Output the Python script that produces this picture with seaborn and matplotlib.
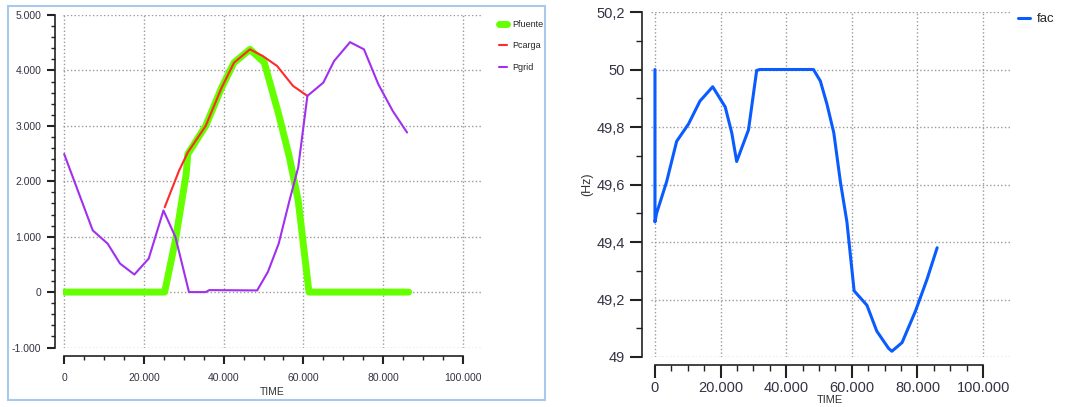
import pandas as pd
import seaborn as sns
import matplotlib.pyplot as plt
from matplotlib.patches import Rectangle

# left panel: power flows
t_fuente = [0, 25200, 27900, 30600, 31000, 35500, 39500, 42600, 46600, 50200, 53800, 56500, 58700, 61400, 86400]
p_fuente = [0, 0, 934, 2130, 2490, 3000, 3690, 4140, 4380, 4140, 3210, 2430, 1650, 0, 0]

t_carga = [25200, 28800, 31000, 35500, 39500, 42600, 46600, 49800, 53400, 57400, 61000]
p_carga = [1530, 2190, 2520, 3000, 3690, 4140, 4380, 4260, 4080, 3720, 3540]

t_grid = [0, 7150, 10900, 14000, 17600, 21200, 24900, 27900, 31300, 35500, 36400, 48400, 51100,
          53800, 56500, 58700, 61000, 65000, 67700, 71700, 75200, 78800, 82400, 86000]
p_grid = [2490, 1114, 874, 515, 317, 605, 1473, 994, 0, 0, 36, 30, 365,
          874, 1650, 2250, 3540, 3780, 4170, 4510, 4380, 3750, 3270, 2880]

# right panel: frequency
t_fac = [0, 0, 500, 3560, 6600, 10200, 13700, 17600, 21400, 23400, 24900, 28500, 31000, 32000, 48300,
         50400, 52400, 54500, 56500, 58500, 59500, 60700, 64600, 67600, 71200, 72200, 75300, 79400, 82900, 86000]
fac = [50.0, 49.47, 49.50, 49.61, 49.75, 49.81, 49.89, 49.94, 49.87, 49.78, 49.68, 49.79, 49.997, 50.0, 50.0,
       49.96, 49.88, 49.78, 49.61, 49.47, 49.36, 49.23, 49.18, 49.09, 49.03, 49.02, 49.05, 49.16, 49.27, 49.38]

x_ticks = [0, 20000, 40000, 60000, 80000, 100000]
x_labels = ['0', '20.000', '40.000', '60.000', '80.000', '100.000']
y1_ticks = [-1000, 0, 1000, 2000, 3000, 4000, 5000]
y1_labels = ['-1.000', '0', '1.000', '2.000', '3.000', '4.000', '5.000']
y2_ticks = [49.0, 49.2, 49.4, 49.6, 49.8, 50.0, 50.2]
y2_labels = ['49', '49,2', '49,4', '49,6', '49,8', '50', '50,2']

sns.set_style("white")
plt.rcParams['font.family'] = ['Liberation Sans', 'DejaVu Sans']

fig = plt.figure(figsize=(10.68, 4.07), dpi=100)
W, H = 1068, 407

def px(l, r, t, b):
    return [l / W, 1 - b / H, (r - l) / W, (b - t) / H]

ax1 = fig.add_axes(px(63, 482, 15, 347.5))
ax2 = fig.add_axes(px(650.7, 1010, 12, 357))

# panel frame of the left chart
fig.patches.append(Rectangle((8 / W, 1 - 400 / H), (545 - 8) / W, (400 - 6) / H,
                             transform=fig.transFigure, fill=False, edgecolor='#aac8ec', lw=1.5))

df_f = pd.DataFrame({'t': t_fuente, 'v': p_fuente})
df_c = pd.DataFrame({'t': t_carga, 'v': p_carga})
df_g = pd.DataFrame({'t': t_grid, 'v': p_grid})
sns.lineplot(x='t', y='v', data=df_f, ax=ax1, color='#66ff00', lw=5, label='Pfuente',
             sort=False, estimator=None, zorder=2)
sns.lineplot(x='t', y='v', data=df_c, ax=ax1, color='#ff2a2a', lw=1.5, label='Pcarga',
             sort=False, estimator=None, zorder=3)
sns.lineplot(x='t', y='v', data=df_g, ax=ax1, color='#a030f0', lw=1.5, label='Pgrid',
             sort=False, estimator=None, zorder=4)

df_fac = pd.DataFrame({'t': t_fac, 'v': fac})
sns.lineplot(x='t', y='v', data=df_fac, ax=ax2, color='#0a5cff', lw=2.2, label='fac',
             sort=False, estimator=None)

def style(ax, xlim, ylim, yt, yl, minor_y, fs, tl):
    ax.set_xlim(*xlim)
    ax.set_ylim(*ylim)
    ax.set_xticks(x_ticks, minor=False)
    ax.set_xticks(range(0, 100001, 5000), minor=True)
    ax.set_yticks(yt, minor=False)
    ax.set_yticks(minor_y, minor=True)
    ax.grid(True, which='major', ls=':', color='#9a9a9a', lw=1)
    for s in ['top', 'right']:
        ax.spines[s].set_visible(False)
    ax.spines['left'].set_position(('outward', 6))
    ax.spines['bottom'].set_position(('outward', 6))
    ax.spines['left'].set_bounds(yt[0], yt[-1])
    ax.spines['bottom'].set_bounds(0, 100000)
    for s in ['left', 'bottom']:
        ax.spines[s].set_color('#222222')
        ax.spines[s].set_linewidth(1.2)
    ax.tick_params(which='major', length=tl, width=1.5, color='#222222', direction='out',
                   left=True, bottom=True, labelsize=fs, labelcolor='#333344')
    ax.tick_params(which='minor', length=tl / 2, width=1, color='#222222', direction='out',
                   left=True, bottom=True)
    ax.set_xticklabels(x_labels, fontsize=fs, color='#333344')
    ax.set_yticklabels(yl, fontsize=fs, color='#333344')
    ax.set_facecolor('none')

style(ax1, (-300, 104800), (-1000, 5000), y1_ticks, y1_labels, range(-1000, 5001, 200), 7.5, 6)
style(ax2, (-1300, 108200), (49.0, 50.2), y2_ticks, y2_labels,
      [49.1 + 0.2 * i for i in range(6)], 10.5, 9)
ax1.tick_params(axis='x', which='major', pad=6.5)
ax2.tick_params(axis='x', which='major', pad=2)

ax1.set_xlabel('TIME', fontsize=7.5, color='#333333', labelpad=3)
ax1.set_ylabel('')
ax2.set_xlabel('TIME', fontsize=8, color='#333333', labelpad=0)
ax2.set_ylabel('(Hz)', fontsize=9, color='#333333', labelpad=2)

ax1.legend(loc='upper left', bbox_to_anchor=(1.02, 1.01), frameon=False, fontsize=6.5,
           handlelength=0.9, labelspacing=1.4, handletextpad=0.6)
ax2.legend(loc='upper left', bbox_to_anchor=(1.0, 1.02), frameon=False, fontsize=9.5,
           handlelength=0.9, handletextpad=0.5, borderaxespad=0.2)

fig.savefig('out.png', dpi=100)
